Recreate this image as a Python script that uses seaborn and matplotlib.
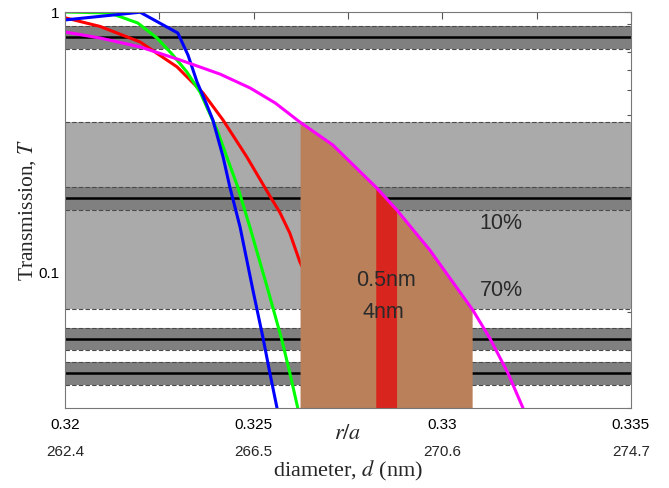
import numpy as np
import matplotlib
matplotlib.use("Agg")
import matplotlib.pyplot as plt
import matplotlib.transforms as mtransforms
import seaborn as sns

# r/a values and transmission for each curve
red_x = [0.32000, 0.32093, 0.32199, 0.32297, 0.32366, 0.32419, 0.32482,
         0.32543, 0.32570, 0.32596, 0.32623, 0.32650]
red_t = [0.950, 0.880, 0.767, 0.615, 0.488, 0.384, 0.277,
         0.196, 0.169, 0.141, 0.109, 0.090]

green_x = [0.32000, 0.32119, 0.32193, 0.32244, 0.32286, 0.32323, 0.32358,
           0.32403, 0.32458, 0.32490, 0.32538, 0.32575, 0.32596, 0.32617]
green_t = [1.000, 0.991, 0.907, 0.794, 0.683, 0.588, 0.492,
           0.352, 0.212, 0.149, 0.0853, 0.0547, 0.0409, 0.0300]

blue_x = [0.32000, 0.32199, 0.32299, 0.32326, 0.32350, 0.32376, 0.32392,
          0.32419, 0.32437, 0.32464, 0.32498, 0.32525, 0.32543, 0.32562]
blue_t = [0.932, 0.998, 0.830, 0.683, 0.538, 0.439, 0.384,
          0.277, 0.212, 0.149, 0.0853, 0.0557, 0.0409, 0.0300]

magenta_x = [0.32000, 0.32093, 0.32199, 0.32305, 0.32411, 0.32491, 0.32557,
             0.32623, 0.32710, 0.32827, 0.32880, 0.32967, 0.33081, 0.33126,
             0.33174, 0.33214]
magenta_t = [0.838, 0.794, 0.734, 0.654, 0.577, 0.510, 0.447,
             0.377, 0.308, 0.210, 0.173, 0.1215, 0.0714, 0.0557,
             0.0409, 0.0300]

# tolerance bands
band_centers = [0.80, 0.193, 0.0555, 0.041]
band_tol = 0.10
wide_band = [0.072, 0.377]

xticks = [0.32, 0.3225, 0.325, 0.3275, 0.33, 0.3325, 0.335]
xtick_labels = ["0.32", "", "0.325", "", "0.33", "", "0.335"]
diam_pos = [0.32, 0.325, 0.33, 0.335]
diam_labels = ["262.4", "266.5", "270.6", "274.7"]

sns.set_style("white")
plt.rcParams["font.family"] = ["Liberation Sans", "DejaVu Sans"]
plt.rcParams["mathtext.fontset"] = "stix"

fig, ax = plt.subplots(figsize=(6.69, 4.88), dpi=100)
fig.subplots_adjust(left=0.0972, right=0.943, bottom=0.1639, top=0.9754)
ax.set_yscale("log")
ax.set_xlim(0.32, 0.335)
ax.set_ylim(0.030, 1.0)
ax.set_axisbelow(True)

edge_kw = dict(color="#4a4a4a", lw=0.8, ls=(0, (4, 2)), zorder=1.2)
ax.axhspan(wide_band[0], wide_band[1], color="#aaaaaa", lw=0, zorder=1)
ax.axhline(wide_band[0], **edge_kw)
ax.axhline(wide_band[1], **edge_kw)
for c in band_centers:
    lo, hi = c * (1 - band_tol), c * (1 + band_tol)
    ax.axhspan(lo, hi, color="#808080", lw=0, zorder=1.1)
    ax.axhline(lo, **edge_kw)
    ax.axhline(hi, **edge_kw)
    ax.axhline(c, color="black", lw=1.8, zorder=1.3)

lw = 2.2
sns.lineplot(x=red_x, y=red_t, color="#ff0000", lw=lw, ax=ax, zorder=2)
sns.lineplot(x=green_x, y=green_t, color="#00ff00", lw=lw, ax=ax, zorder=2.1)
sns.lineplot(x=blue_x, y=blue_t, color="#0000ff", lw=lw, ax=ax, zorder=2.2)


def region_under_magenta(t_hi, t_lo):
    # region where the magenta curve lies between t_lo and t_hi
    mx = np.array(magenta_x)
    logt = np.log10(magenta_t)
    x0 = np.interp(np.log10(t_hi), logt[::-1], mx[::-1])
    x1 = np.interp(np.log10(t_lo), logt[::-1], mx[::-1])
    inside = (mx > x0) & (mx < x1)
    xs = np.concatenate([[x0], mx[inside], [x1]])
    ys = np.concatenate([[t_hi], np.array(magenta_t)[inside], [t_lo]])
    return xs, ys


bx, by = region_under_magenta(wide_band[1], wide_band[0])
ax.fill_between(bx, 0.01, by, color="#b9805a", lw=0, zorder=3)
rx, ry = region_under_magenta(band_centers[1] * (1 + band_tol),
                              band_centers[1] * (1 - band_tol))
ax.fill_between(rx, 0.01, ry, color="#d8261e", lw=0, zorder=3.1)

sns.lineplot(x=magenta_x, y=magenta_t, color="#ff00ff", lw=lw, ax=ax, zorder=4)

txt_kw = dict(fontsize=15.5, color="#2a2a2a", ha="center", va="center", zorder=5)
ax.text(0.33156, 0.154, "10%", **txt_kw)
ax.text(0.33156, 0.0853, "70%", **txt_kw)
ax.text(0.32851, 0.0931, "0.5nm", **txt_kw)
ax.text(0.32843, 0.0696, "4nm", **txt_kw)

ax.set_xticks(xticks)
ax.set_xticklabels(xtick_labels)
ax.set_yticks([0.1, 1.0])
ax.set_yticklabels(["0.1", "1"])
ax.tick_params(axis="both", which="both", direction="in", top=True, right=True,
               labelsize=11, colors="#555555", labelcolor="black")
ax.tick_params(axis="both", which="major", length=5, width=0.8, pad=7)
ax.tick_params(axis="y", which="major", pad=4)
ax.tick_params(axis="both", which="minor", length=3, width=0.8)
ax.xaxis.set_minor_locator(matplotlib.ticker.NullLocator())
for s in ax.spines.values():
    s.set_color("#777777")
    s.set_linewidth(0.8)
    s.set_zorder(6)

trans = mtransforms.blended_transform_factory(ax.transData, ax.transAxes)
for p, lbl in zip(diam_pos, diam_labels):
    ax.text(p, -0.111, lbl, transform=trans, ha="center", va="center", fontsize=11)

serif = ["Liberation Serif", "DejaVu Serif"]
ax.set_xlabel("")
ax.set_ylabel("Transmission, $T$", family=serif, fontsize=15.5)
ax.yaxis.set_label_coords(-0.048, 0.5)
ax.text(0.5, -0.068, "$r/a$", transform=ax.transAxes, ha="center", va="center",
        family=serif, fontsize=16)
ax.text(0.5, -0.159, "diameter, $d$ (nm)", transform=ax.transAxes, ha="center",
        va="center", family=serif, fontsize=16)

fig.savefig("out.png", dpi=100)
